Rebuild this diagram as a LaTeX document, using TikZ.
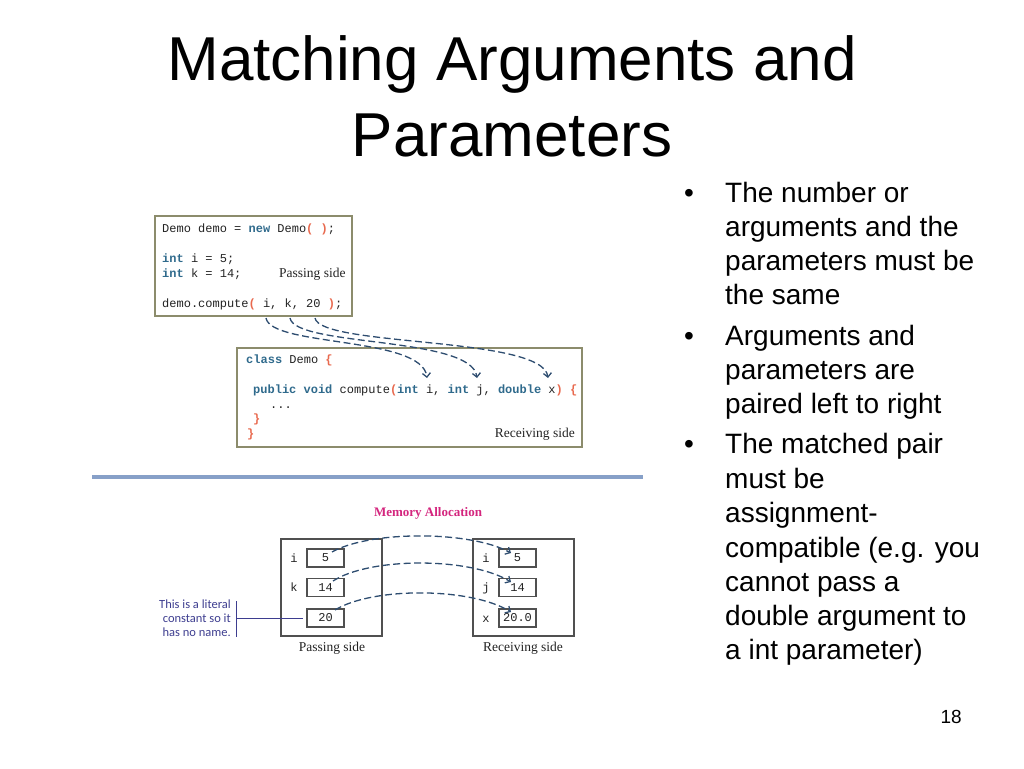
\documentclass[tikz,border=0pt]{standalone}
\usepackage{fontspec}
\setmainfont{Liberation Sans}
\newfontfamily\serifx{Liberation Serif}
\newfontfamily\monox{Liberation Mono}
\newfontfamily\callx{Carlito}
\usetikzlibrary{arrows.meta}
\definecolor{kwc}{HTML}{2F6A8C}
\definecolor{prc}{HTML}{E8694E}
\definecolor{codec}{HTML}{222222}
\definecolor{boxc}{HTML}{8C8C6C}
\definecolor{arrc}{HTML}{2E4D70}
\definecolor{memc}{HTML}{505050}
\definecolor{magc}{HTML}{D4267E}
\definecolor{callc}{HTML}{3D3D8F}
\definecolor{rulec}{HTML}{87A0C8}
\newcommand\kw[1]{{\bfseries\color{kwc}#1}}
\newcommand\pr[1]{{\bfseries\color{prc}#1}}
\begin{document}
\begin{tikzpicture}[x=1pt,y=-1pt,
  titlef/.style={anchor=base, inner sep=0, font=\fontsize{62}{74}\selectfont},
  bul/.style={anchor=base west, inner sep=0, font=\fontsize{28}{34}\selectfont},
  code/.style={anchor=base west, inner sep=0, font=\monox\fontsize{12}{14}\selectfont, text=codec},
  serifl/.style={inner sep=0, font=\serifx\fontsize{13.5}{16}\selectfont, text=codec},
  codebox/.style={draw=boxc, line width=1.2pt, inner sep=0},
  membox/.style={draw=memc, line width=1.1pt, inner sep=0, minimum width=101, minimum height=97},
  cell/.style={draw=memc, line width=1.1pt, inner sep=0, minimum width=37, minimum height=18, font=\monox\fontsize{12}{14}\selectfont, text=codec},
  flow/.style={draw=arrc, dash pattern=on 7pt off 3.5pt, line width=1.3pt, -{Straight Barb[length=4pt,width=8pt]}},
  callt/.style={anchor=base east, inner sep=0, font=\callx\fontsize{12.5}{14}\selectfont, text=callc}
]
\useasboundingbox (0,0) rectangle (1024,768);

% title
\node[titlef] (t1) at (512,81) {Matching Arguments and};
\node[titlef] (t2) at (512,156) {Parameters};

% bullets
\node[bul] (b1) at (684,202) {•};
\node[bul] (b1a) at (725,202) {The number or};
\node[bul] (b1b) at (725,236) {arguments and the};
\node[bul] (b1c) at (725,270) {parameters must be};
\node[bul] (b1d) at (725,304) {the same};
\node[bul] (b2) at (684,345) {•};
\node[bul] (b2a) at (725,345) {Arguments and};
\node[bul] (b2b) at (725,379) {parameters are};
\node[bul] (b2c) at (725,413) {paired left to right};
\node[bul] (b3) at (684,453) {•};
\node[bul] (b3a) at (725,453) {The matched pair};
\node[bul] (b3b) at (725,488) {must be};
\node[bul] (b3c) at (725,522) {assignment-};
\node[bul] (b3d) at (725,557) {compatible (e.g. you};
\node[bul] (b3e) at (725,591) {cannot pass a};
\node[bul] (b3f) at (725,625) {double argument to};
\node[bul] (b3g) at (725,659) {a int parameter)};

% page number
\node[anchor=base east, inner sep=0, font=\fontsize{19}{22}\selectfont] (pg) at (962,723) {18};

% code box 1
\node[codebox, minimum width=197, minimum height=100] (box1) at (253.5,266) {};
\node[code] (c1) at (162,232) {Demo demo = \kw{new} Demo\pr{( )};};
\node[code] (c2) at (162,262) {\kw{int} i = 5;};
\node[code] (c3) at (162,277) {\kw{int} k = 14;};
\node[serifl, anchor=base west] (ps1) at (279,277) {Passing side};
\node[code] (c4) at (162,307) {demo.compute\pr{(} i, k, 20 \pr{)};};

% code box 2
\node[codebox, minimum width=345, minimum height=99] (box2) at (409.5,397.5) {};
\node[code] (d1) at (246,363) {\kw{class} Demo \pr{\{}};
\node[code] (d2) at (253,393) {\kw{public} \kw{void} compute\pr{(}\kw{int} i, \kw{int} j, \kw{double} x\pr{)} \pr{\{}};
\node[code] (d3) at (270,408) {...};
\node[code] (d4) at (253,422) {\pr{\}}};
\node[code] (d5) at (247,437) {\pr{\}}};
\node[serifl, anchor=base east] (rs1) at (575,437) {Receiving side};

% argument arrows
\coordinate (ai) at (266,318);
\coordinate (ak) at (290,318);
\coordinate (a20) at (315,318);
\coordinate (pi) at (427,378);
\coordinate (pj) at (477,378);
\coordinate (px) at (548,378);
\draw[flow] (ai) .. controls (271,347) and (422,336) .. (pi);
\draw[flow] (ak) .. controls (295,347) and (472,336) .. (pj);
\draw[flow] (a20) .. controls (320,347) and (543,336) .. (px);

% rule
\draw[rulec, line width=4pt] (92,477) -- (643,477);

% memory allocation
\node[anchor=base, inner sep=0, font=\serifx\bfseries\fontsize{13}{15}\selectfont, text=magc] (mt) at (428,516) {Memory Allocation};
\node[membox] (pbox) at (331.5,587.5) {};
\node[membox] (rbox) at (523.5,587.5) {};
\node[cell] (v5) at (325.5,558) {5};
\node[cell] (v14) at (325.5,587.5) {14};
\node[cell] (v20) at (325.5,618) {20};
\node[cell] (w5) at (517.5,558) {5};
\node[cell] (w14) at (517.5,587.5) {14};
\node[cell] (w20) at (517.5,618) {20.0};
\node[code, anchor=base] (li) at (294,562) {i};
\node[code, anchor=base] (lk) at (294,591.5) {k};
\node[code, anchor=base] (ri) at (486,562) {i};
\node[code, anchor=base] (rj) at (486,591.5) {j};
\node[code, anchor=base] (rx) at (486,622) {x};
\node[serifl, anchor=base] (ps2) at (332,651) {Passing side};
\node[serifl, anchor=base] (rs2) at (523,651) {Receiving side};

\coordinate (m1s) at (332,552);
\coordinate (m2s) at (333,581);
\coordinate (m3s) at (335,610);
\coordinate (m1e) at (511,553);
\coordinate (m2e) at (511,582);
\coordinate (m3e) at (511,612);
\draw[flow] (m1s) .. controls (370,530.5) and (470,530.5) .. (m1e);
\draw[flow] (m2s) .. controls (370,557) and (470,557) .. (m2e);
\draw[flow] (m3s) .. controls (372,587) and (470,587) .. (m3e);

% callout
\node[callt] (k1) at (231,608) {This is a literal};
\node[callt] (k2) at (231,622) {constant so it};
\node[callt] (k3) at (231,636) {has no name.};
\coordinate (kt) at (236,601);
\coordinate (kb) at (236,637);
\coordinate (km) at (236,618);
\draw[callc, line width=1pt] (kt) -- (kb);
\draw[callc, line width=1pt, shorten >=3pt] (km) -- (v20.west);
\end{tikzpicture}
\end{document}
